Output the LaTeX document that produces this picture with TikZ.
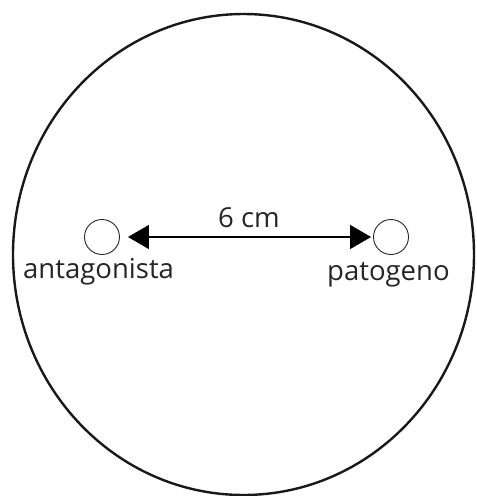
\documentclass[tikz,border=0pt]{standalone}
\usepackage{fontspec}
\setmainfont{Open Sans}
\usetikzlibrary{arrows.meta}
\begin{document}
\begin{tikzpicture}[x=1pt,y=-1pt,
  dish/.style={line width=2.4pt, draw=black!90},
  well/.style={circle, draw=black!85, line width=0.9pt, minimum size=35pt, inner sep=0pt},
  lbl/.style={font=\fontsize{27.5}{31}\selectfont, text=black!85, inner sep=0pt},
  dist/.style={line width=1.5pt, {Triangle[length=21pt,width=24pt]}-{Triangle[length=21pt,width=24pt]}}
]
\useasboundingbox (0,0) rectangle (477,496);
\draw[dish] (243.5,254.5) ellipse [x radius=230.5, y radius=240.5];
\node[well] (a) at (102,237) {};
\node[well] (p) at (391,237) {};
\draw[dist, shorten <=8pt, shorten >=2pt] (a.east) -- (p.west);
\node[lbl, anchor=base] (d) at (249,227) {6 cm};
\node[lbl, anchor=base west] (la) at (23,278) {antagonista};
\node[lbl, anchor=base west] (lp) at (327,280) {patogeno};
\end{tikzpicture}
\end{document}
